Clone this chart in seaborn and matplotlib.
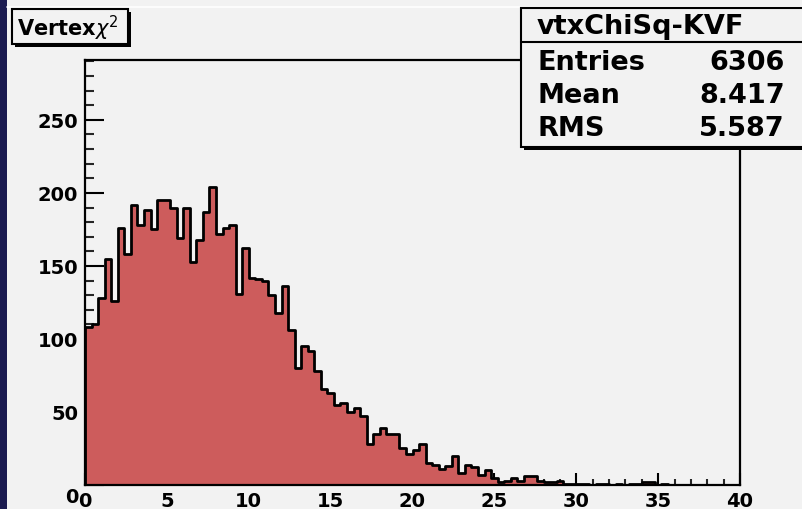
import numpy as np
import pandas as pd
import seaborn as sns
import matplotlib.pyplot as plt
from matplotlib.patches import Rectangle
from matplotlib.lines import Line2D
from matplotlib.ticker import MultipleLocator
from matplotlib.transforms import ScaledTranslation

# Estilo base
sns.set_theme(style='ticks')
plt.rcParams['font.family'] = ['DejaVu Sans']

# Datos: contenido de los 100 bins (0-40) de vtxChiSq-KVF
x_min, x_max, n_bins = 0, 40, 100
conteos = [108, 110, 128, 155, 126, 176, 158, 192, 178, 188,
           175, 195, 195, 190, 169, 190, 153, 168, 187, 204,
           172, 176, 178, 131, 162, 142, 141, 140, 130, 118,
           136, 106, 80, 95, 92, 78, 66, 63, 55, 56,
           50, 53, 47, 28, 35, 39, 35, 35, 25, 21,
           24, 28, 15, 14, 11, 13, 20, 8, 14, 12,
           7, 10, 5, 2, 3, 5, 3, 6, 6, 3,
           2, 2, 3, 1, 1, 1, 1, 0, 1, 1,
           0, 1, 0, 1, 1, 2, 2, 0, 1, 0,
           0, 0, 0, 0, 0, 0, 0, 0, 0, 0]
titulo = 'Vertex$\\chi^{2}$'
nombre = 'vtxChiSq-KVF'
estadisticas = [('Entries', '6306'), ('Mean', '8.417'), ('RMS', '5.587')]
y_max = 291

bordes = np.linspace(x_min, x_max, n_bins + 1)
centros = 0.5 * (bordes[:-1] + bordes[1:])
df = pd.DataFrame({'chi2': centros, 'n': conteos})

W, H = 802, 510
fondo = '#f2f2f2'
relleno = '#cd5c5c'

fig = plt.figure(figsize=(W / 100, H / 100), dpi=100, facecolor=fondo)


def fx(px):
    return px / W


def fy(py):
    return 1 - py / H


ax = fig.add_axes([fx(85), fy(486), fx(740) - fx(85), fy(61) - fy(486)])
ax.set_facecolor(fondo)

sns.histplot(data=df, x='chi2', weights='n', bins=n_bins, binrange=(x_min, x_max),
             element='step', fill=True, color=relleno, alpha=1,
             edgecolor='black', linewidth=2, ax=ax)

ax.set_xlim(x_min, x_max)
ax.set_ylim(0, y_max)
ax.set_xlabel('')
ax.set_ylabel('')
ax.grid(False)
for s in ax.spines.values():
    s.set_visible(True)
    s.set_color('black')
    s.set_linewidth(1.6)

ax.xaxis.set_major_locator(MultipleLocator(5))
ax.xaxis.set_minor_locator(MultipleLocator(1))
ax.yaxis.set_major_locator(MultipleLocator(50))
ax.yaxis.set_minor_locator(MultipleLocator(10))
ax.tick_params(axis='x', which='major', direction='in', length=8.5, width=1.5,
               top=False, bottom=True, pad=4, colors='black', labelsize=14)
ax.tick_params(axis='x', which='minor', direction='in', length=4.5, width=1.5,
               top=False, bottom=True)
ax.tick_params(axis='y', which='major', direction='in', length=13.5, width=1.5,
               left=True, right=False, pad=5, colors='black', labelsize=14)
ax.tick_params(axis='y', which='minor', direction='in', length=6.5, width=1.5,
               left=True, right=False)
for lab in ax.get_xticklabels() + ax.get_yticklabels():
    lab.set_fontweight('bold')

# El "0" del eje y va un poco más abajo, como en ROOT
fig.canvas.draw()
for lab in ax.get_yticklabels():
    if lab.get_text() == '0':
        lab.set_transform(lab.get_transform() + ScaledTranslation(0, -0.10, fig.dpi_scale_trans))

# Franja azul de la izquierda y línea blanca superior
fig.add_artist(Rectangle((0, 0), fx(7), 1, transform=fig.transFigure,
                         facecolor='#1b1b50', edgecolor='none', zorder=-1))
fig.add_artist(Line2D([fx(7), 1], [fy(7.5), fy(7.5)], transform=fig.transFigure,
                      color='white', linewidth=1.2, zorder=-1))

# Caja del título
fig.add_artist(Rectangle((fx(15), fy(48)), fx(116), fy(10) - fy(45), transform=fig.transFigure,
                         facecolor='black', edgecolor='none', zorder=5))
fig.add_artist(Rectangle((fx(12), fy(45)), fx(116), fy(10) - fy(45), transform=fig.transFigure,
                         facecolor=fondo, edgecolor='black', linewidth=1.5, zorder=6))
fig.text(fx(17), fy(28), titulo, fontsize=15, fontweight='bold', va='center', ha='left',
         color='black', zorder=7)

# Caja de estadísticas
fig.add_artist(Rectangle((fx(524), fy(151)), fx(300), fy(9) - fy(148), transform=fig.transFigure,
                         facecolor='black', edgecolor='none', zorder=5))
fig.add_artist(Rectangle((fx(521), fy(148)), fx(300), fy(9) - fy(148), transform=fig.transFigure,
                         facecolor=fondo, edgecolor='black', linewidth=1.5, zorder=6))
fig.add_artist(Line2D([fx(521), 1], [fy(43), fy(43)], transform=fig.transFigure,
                      color='black', linewidth=1.5, zorder=7))
fig.text(fx(537), fy(27), nombre, fontsize=19.5, fontweight='bold', va='center', ha='left',
         color='black', zorder=8)
for i, (etq, val) in enumerate(estadisticas):
    yy = fy(63 + 33 * i)
    fig.text(fx(537), yy, etq, fontsize=19.5, fontweight='bold', va='center', ha='left',
             color='black', zorder=8)
    fig.text(fx(785), yy, val, fontsize=19.5, fontweight='bold', va='center', ha='right',
             color='black', zorder=8)

plt.savefig('out.png', dpi=100, facecolor=fondo)
